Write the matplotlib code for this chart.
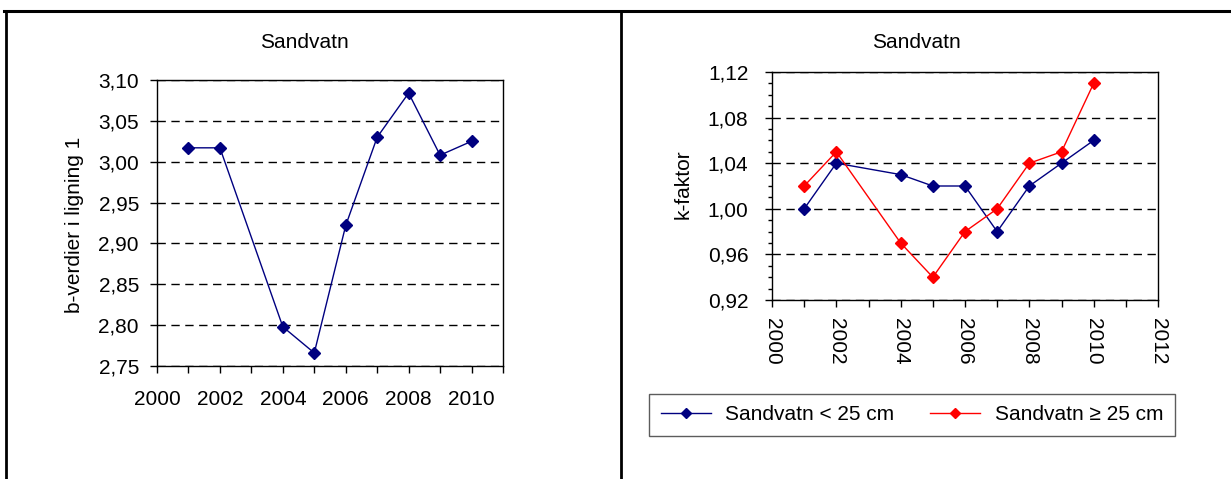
import matplotlib
matplotlib.use("Agg")
import matplotlib.pyplot as plt
from matplotlib.lines import Line2D
from matplotlib.ticker import MultipleLocator, FuncFormatter

plt.rcParams['font.family'] = ['Liberation Sans', 'DejaVu Sans']

# ---- data ----
years_b = [2001, 2002, 2004, 2005, 2006, 2007, 2008, 2009, 2010]
b_values = [3.017, 3.017, 2.798, 2.766, 2.922, 3.030, 3.084, 3.008, 3.025]

years_k = [2001, 2002, 2004, 2005, 2006, 2007, 2008, 2009, 2010]
k_small = [1.00, 1.04, 1.03, 1.02, 1.02, 0.98, 1.02, 1.04, 1.06]
k_large = [1.02, 1.05, 0.97, 0.94, 0.98, 1.00, 1.04, 1.05, 1.11]

title_left = "Sandvatn"
title_right = "Sandvatn"
ylabel_left = "b-verdier i ligning 1"
ylabel_right = "k-faktor"
label_small = "Sandvatn < 25 cm"
label_large = "Sandvatn \u2265 25 cm"

W, H = 1231, 479
fig = plt.figure(figsize=(W / 100, H / 100), dpi=100)
FS = 15

def comma(dec):
    return FuncFormatter(lambda v, p: f"{v:.{dec}f}".replace('.', ','))

def fx(px):
    return px / W

def fy(py):
    return 1 - py / H

NAVY = '#000080'
RED = '#FF0000'
mk = dict(marker='D', markersize=6.5, linewidth=1.0)
grid_kw = dict(color='black', linestyle=(0, (6, 4)), linewidth=1.0)

# ---- left chart ----
ax1 = fig.add_axes([fx(157), fy(366), fx(503) - fx(157), fy(80) - fy(366)])
ax1.plot(years_b, b_values, color=NAVY, **mk)
ax1.set_xlim(2000, 2011)
ax1.set_ylim(2.75, 3.10)
ax1.xaxis.set_major_locator(MultipleLocator(1))
ax1.xaxis.set_major_formatter(FuncFormatter(lambda v, p: f"{int(round(v))}" if int(round(v)) % 2 == 0 and v < 2010.5 else ""))
ax1.yaxis.set_major_locator(MultipleLocator(0.05))
ax1.yaxis.set_major_formatter(comma(2))
ax1.yaxis.grid(True, **grid_kw)
ax1.set_axisbelow(True)
ax1.tick_params(axis='both', direction='out', length=5, width=1, labelsize=FS)
ax1.tick_params(axis='x', pad=12)
ax1.tick_params(axis='y', pad=8)
for s in ax1.spines.values():
    s.set_linewidth(1.0)

# ---- right chart ----
ax2 = fig.add_axes([fx(772), fy(300), fx(1158) - fx(772), fy(72) - fy(300)])
ax2.plot(years_k, k_small, color=NAVY, label=label_small, **mk)
ax2.plot(years_k, k_large, color=RED, label=label_large, **mk)
ax2.set_xlim(2000, 2012)
ax2.set_ylim(0.92, 1.12)
ax2.xaxis.set_major_locator(MultipleLocator(1))
ax2.xaxis.set_major_formatter(FuncFormatter(lambda v, p: f"{int(round(v))}" if int(round(v)) % 2 == 0 else ""))
ax2.yaxis.set_major_locator(MultipleLocator(0.04))
ax2.yaxis.set_minor_locator(MultipleLocator(0.01))
ax2.yaxis.set_major_formatter(comma(2))
ax2.yaxis.grid(True, which='major', **grid_kw)
ax2.set_axisbelow(True)
ax2.tick_params(axis='both', which='major', direction='out', length=5, width=1, labelsize=FS)
ax2.tick_params(axis='y', which='major', pad=12)
ax2.tick_params(axis='y', which='minor', direction='out', length=3, width=1)
ax2.tick_params(axis='x', which='major', labelrotation=-90, pad=8)
for s in ax2.spines.values():
    s.set_linewidth(1.0)

# ---- titles / labels ----
fig.text(fx(304), fy(42), title_left, ha='center', va='center', fontsize=FS)
fig.text(fx(916), fy(42), title_right, ha='center', va='center', fontsize=FS)
fig.text(fx(74), fy(225), ylabel_left, ha='center', va='center', rotation=90, fontsize=FS)
fig.text(fx(683), fy(184), ylabel_right, ha='center', va='center', rotation=90, fontsize=FS)

# ---- legend ----
h, l = ax2.get_legend_handles_labels()
leg = fig.legend(h, l, loc='center', bbox_to_anchor=(fx(912), fy(415)), ncol=2,
                 fontsize=FS, frameon=True, fancybox=False, edgecolor='#333333',
                 handlelength=2.4, columnspacing=1.7, handletextpad=0.7,
                 borderpad=0.55, borderaxespad=0)
leg.get_frame().set_linewidth(1.0)
for lh in leg.legend_handles:
    lh.set_markersize(5.5)

# ---- outer frame lines ----
fig.add_artist(Line2D([fx(4), 1.0], [fy(11), fy(11)], color='black', linewidth=2.2))
fig.add_artist(Line2D([fx(6), fx(6)], [fy(11), 0], color='black', linewidth=2.0))
fig.add_artist(Line2D([fx(621), fx(621)], [fy(11), 0], color='black', linewidth=2.0))

fig.savefig("out.png", dpi=100)
